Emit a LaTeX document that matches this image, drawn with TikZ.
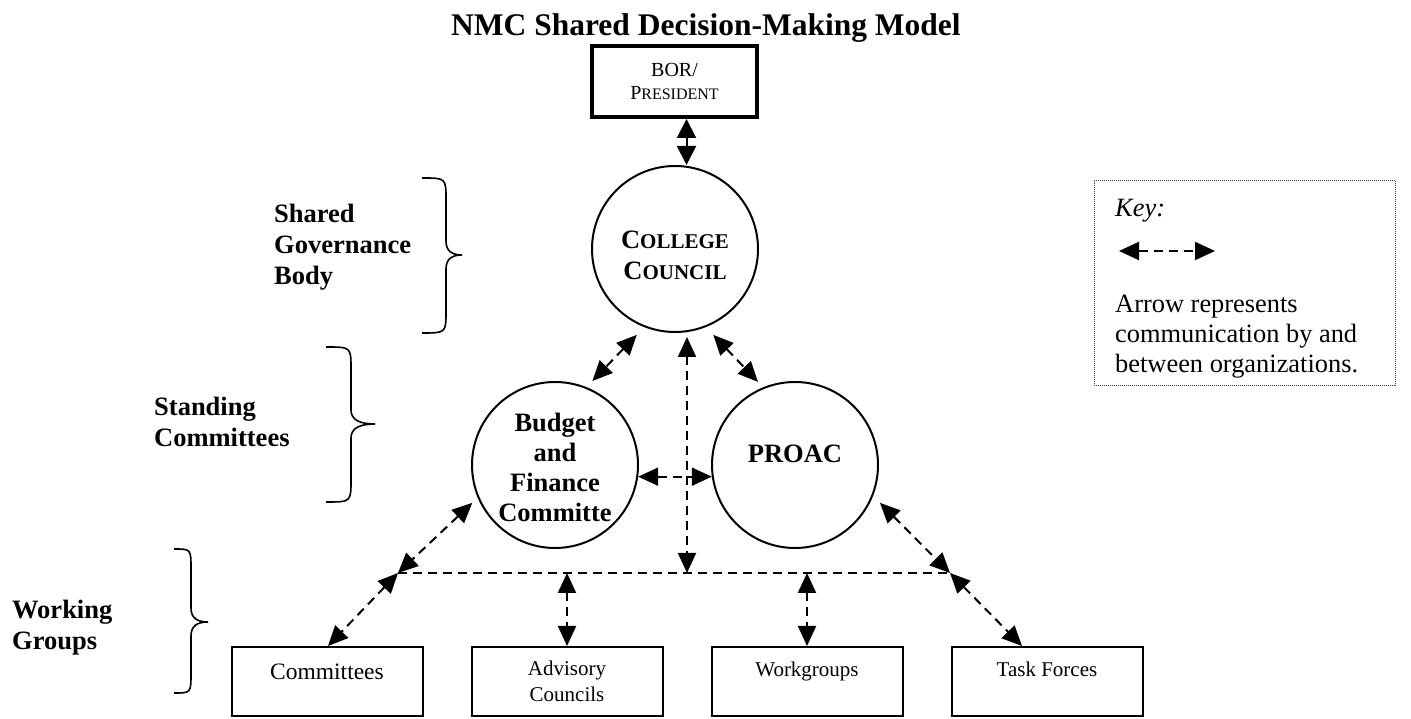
\documentclass[tikz,border=0pt]{standalone}
\usepackage{fontspec}
\setmainfont{Liberation Serif}
\usetikzlibrary{arrows.meta,calc}
\newcommand\fsz[2]{\fontsize{#1}{#2}\selectfont}
\begin{document}
\begin{tikzpicture}[x=1pt,y=1pt,
  circ/.style={circle,draw,line width=2pt,minimum size=166pt,inner sep=0pt,align=center,font=\bfseries\fsz{26.5}{30}},
  wbox/.style={rectangle,draw,line width=2pt,minimum width=191pt,minimum height=69pt,inner sep=0pt,align=center},
  tipA/.tip={Triangle[length=20pt,width=18pt]},
  comm/.style={dash pattern=on 9pt off 6pt,line width=2pt,tipA-tipA},
  hline/.style={dash pattern=on 9pt off 6pt,line width=2pt},
  solidcomm/.style={line width=2pt,{Triangle[length=19pt,width=19pt]}-{Triangle[length=19pt,width=19pt]}},
  brc/.style={line width=1.6pt},
  side/.style={anchor=base west,align=left,font=\bfseries\fsz{26.5}{31},inner sep=0pt},
  keybox/.style={rectangle,draw=black!75,line width=0.9pt,dash pattern=on 1pt off 1pt,minimum width=301pt,minimum height=205pt,inner sep=0pt},
]
\useasboundingbox (0,0) rectangle (1411,719);

% title
\node[font=\bfseries\fsz{31.5}{36},anchor=base west,inner sep=0pt] (title) at (451,683) {NMC Shared Decision-Making Model};

% top box
\node[rectangle,draw,line width=4pt,minimum width=165pt,minimum height=71pt,inner sep=0pt,align=center,font=\fsz{20}{23}] (bor) at (674.5,637.5) {BOR/\\P{\fsz{16}{23}RESIDENT}};

% circles
\node[circ,font=\bfseries\fsz{26.5}{31}] (cc) at (675,470) {\rule{0pt}{30pt}C{\fsz{21}{31}OLLEGE}\\C{\fsz{21}{31}OUNCIL}};
\node[circ] (bf) at (555,254) {\rule{0pt}{24pt}Budget\\and\\Finance\\Committe};
\node[circ,text height=18pt,text depth=22pt] (pr) at (795,254) {PROAC};

% bottom boxes
\node[wbox,font=\fsz{23.5}{27},text height=16pt,text depth=19pt] (com) at (327,37.5) {Committees};
\node[wbox,font=\fsz{21}{26}] (adv) at (567,37.5) {Advisory\\Councils};
\node[wbox,font=\fsz{21}{26},text height=15pt,text depth=24pt] (wg) at (807,37.5) {Workgroups};
\node[wbox,font=\fsz{21}{26},text height=15pt,text depth=24pt] (tf) at (1047,37.5) {Task Forces};

% junctions
\coordinate (jl) at (398,146);
\coordinate (jr) at (950,146);

% connectors
\draw[solidcomm] ([xshift=12pt]bor.south) -- ([xshift=12pt]bor.south |- cc.north);
\draw[comm] ($(cc)+(246:94pt)$) -- ($(bf)+(66:92pt)$);
\draw[comm] ($(cc)+(294:94pt)$) -- ($(pr)+(114:91pt)$);
\draw[comm] (bf.-8.2) -- (pr.188.2);
\draw[comm] ([xshift=12pt,yshift=-4pt]cc.south) -- ([xshift=12pt]cc.south |- jl);
\draw[hline] (jl) -- (jr);
\draw[comm] ($(bf)+(204.6:91pt)$) -- (jl);
\draw[comm] (jl) -- ([xshift=1pt]com.north);
\draw[comm] (adv.north |- jl) -- (adv.north);
\draw[comm] (wg.north |- jl) -- (wg.north);
\draw[comm] ($(pr)+(-24:93pt)$) -- (jr);
\draw[comm] (jr) -- ([xshift=-25pt]tf.north);

% key
\node[keybox] (key) at (1244.5,436.5) {};
\node[anchor=base west,inner sep=0pt,font=\itshape\fsz{26.4}{30}] (keyt) at (1115,502) {Key:};
\coordinate (ka) at (1119,468);
\coordinate (kb) at (1215,468);
\draw[comm] (ka) -- (kb);
\node[anchor=base west,inner sep=0pt,align=left,font=\fsz{26.4}{30}] (keyd) at (1115,346) {Arrow represents\\communication by and\\between organizations.};

% side labels
\node[side] (sg) at (274,434) {Shared\\Governance\\Body};
\node[side] (sc) at (154,272) {Standing\\Committees};
\node[side] (wgl) at (12,69) {Working\\Groups};

% braces
\draw[brc] (422,541) .. controls (446,541) and (446,541) .. (446,519) -- (446,478) .. controls (446,468) and (452,464) .. (462,464) .. controls (452,464) and (446,460) .. (446,450) -- (446,408) .. controls (446,386) and (446,386) .. (422,386);
\draw[brc] (326,372) .. controls (351,372) and (351,372) .. (351,350) -- (351,309) .. controls (351,299) and (360,295) .. (375,295) .. controls (360,295) and (351,291) .. (351,281) -- (351,239) .. controls (351,217) and (351,217) .. (326,217);
\draw[brc] (174,170) .. controls (191,170) and (191,170) .. (191,150) -- (191,111) .. controls (191,101) and (197,97) .. (208,97) .. controls (197,97) and (191,93) .. (191,83) -- (191,46) .. controls (191,26) and (191,26) .. (174,26);
\end{tikzpicture}
\end{document}
